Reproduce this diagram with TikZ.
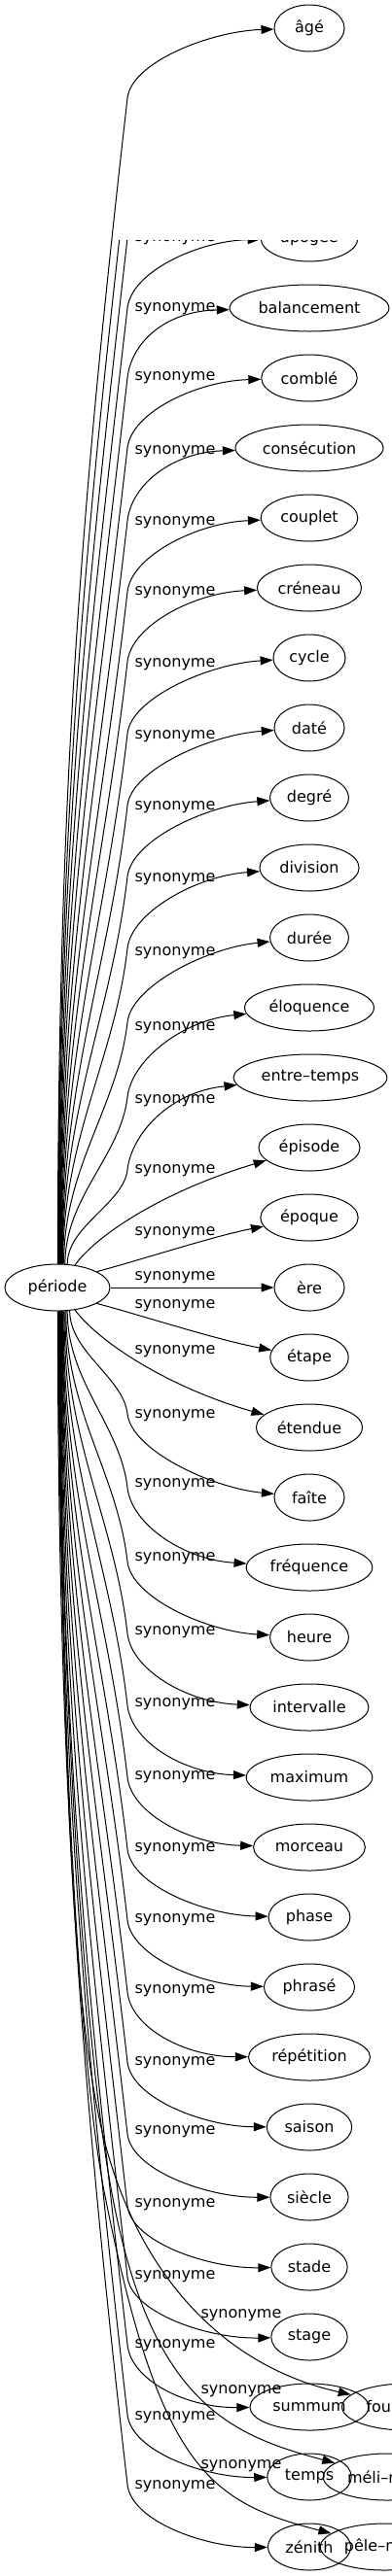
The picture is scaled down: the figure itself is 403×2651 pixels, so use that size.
\documentclass[tikz,border=0pt]{standalone}
\usepackage{fontspec}
\setmainfont{DejaVu Sans}
\usetikzlibrary{arrows.meta,shapes.geometric,calc}

\tikzset{
  word/.style={draw, ellipse, line width=1pt, minimum width=72pt, minimum height=48pt,
    inner xsep=5.5pt, inner ysep=2pt, font=\fontsize{16}{19}\selectfont},
  lbl/.style={inner sep=0pt, font=\fontsize{16}{19}\selectfont},
  syn/.style={draw, line width=1pt, -{Triangle[length=13pt,width=9pt]}}
}

\begin{document}
\begin{tikzpicture}[x=1pt, y=-1pt]
\useasboundingbox (0,0) rectangle (403,2651);

\node[word, minimum width=108pt] (periode) at (59,1325) {période};

\node[word] (age) at (318,29) {âgé};
\node[word] (apogee) at (318,245) {apogée};
\node[word] (balancement) at (318,317) {balancement};
\node[word] (comble) at (318,389) {comblé};
\node[word] (consecution) at (318,461) {consécution};
\node[word] (couplet) at (318,533) {couplet};
\node[word] (creneau) at (318,605) {créneau};
\node[word] (cycle) at (318,677) {cycle};
\node[word] (date) at (318,749) {daté};
\node[word] (degre) at (318,821) {degré};
\node[word] (division) at (318,893) {division};
\node[word] (duree) at (318,965) {durée};
\node[word] (eloquence) at (318,1037) {éloquence};
\node[word] (entretemps) at (319,1109) {entre–temps};
\node[word] (episode) at (318,1181) {épisode};
\node[word] (epoque) at (318,1253) {époque};
\node[word] (ere) at (318,1325) {ère};
\node[word] (etape) at (318,1397) {étape};
\node[word] (etendue) at (318,1469) {étendue};
\node[word] (faite) at (318,1541) {faîte};
\node[word] (frequence) at (318,1613) {fréquence};
\node[word] (heure) at (318,1685) {heure};
\node[word] (intervalle) at (318,1757) {intervalle};
\node[word] (maximum) at (318,1829) {maximum};
\node[word] (morceau) at (318,1901) {morceau};
\node[word] (phase) at (318,1973) {phase};
\node[word] (phrase) at (318,2045) {phrasé};
\node[word] (repetition) at (318,2117) {répétition};
\node[word] (saison) at (318,2189) {saison};
\node[word] (siecle) at (318,2261) {siècle};
\node[word] (stade) at (318,2333) {stade};
\node[word] (stage) at (318,2405) {stage};
\node[word] (summum) at (318,2477) {summum};
\node[word] (temps) at (318,2549) {temps};
\node[word] (zenith) at (318,2621) {zénith};
\node[word] (fourchette) at (418,2477) {fourchette};
\node[word] (melimelo) at (398,2549) {méli–mélo};
\node[word] (pelemele) at (395,2621) {pêle–mêle};

\node[lbl] (s1) at (180,246) {synonyme};
\node[lbl] (s2) at (180,318) {synonyme};
\node[lbl] (s3) at (180,389) {synonyme};
\node[lbl] (s4) at (180,465) {synonyme};
\node[lbl] (s5) at (180,538) {synonyme};
\node[lbl] (s6) at (180,610) {synonyme};
\node[lbl] (s7) at (180,684) {synonyme};
\node[lbl] (s8) at (180,758) {synonyme};
\node[lbl] (s9) at (180,831) {synonyme};
\node[lbl] (s10) at (180,905) {synonyme};
\node[lbl] (s11) at (180,981) {synonyme};
\node[lbl] (s12) at (180,1058) {synonyme};
\node[lbl] (s13) at (180,1133) {synonyme};
\node[lbl] (s14) at (180,1205) {synonyme};
\node[lbl] (s15) at (180,1269) {synonyme};
\node[lbl] (s16) at (180,1315) {synonyme};
\node[lbl] (s17) at (180,1344) {synonyme};
\node[lbl] (s18) at (180,1391) {synonyme};
\node[lbl] (s19) at (180,1457) {synonyme};
\node[lbl] (s20) at (180,1528) {synonyme};
\node[lbl] (s21) at (180,1604) {synonyme};
\node[lbl] (s22) at (180,1680) {synonyme};
\node[lbl] (s23) at (180,1754) {synonyme};
\node[lbl] (s24) at (180,1829) {synonyme};
\node[lbl] (s25) at (180,1903) {synonyme};
\node[lbl] (s26) at (180,1976) {synonyme};
\node[lbl] (s27) at (180,2049) {synonyme};
\node[lbl] (s28) at (180,2123) {synonyme};
\node[lbl] (s29) at (180,2194) {synonyme};
\node[lbl] (s30) at (180,2269) {synonyme};
\node[lbl] (s31) at (180,2343) {synonyme};
\node[lbl] (s32) at (248,2383) {synonyme};
\node[lbl] (s33) at (180,2414) {synonyme};
\node[lbl] (s34) at (248,2461) {synonyme};
\node[lbl] (s35) at (180,2488) {synonyme};
\node[lbl] (s36) at (248,2538) {synonyme};
\node[lbl] (s37) at (180,2559) {synonyme};

\coordinate (hidA) at (131,173);
\coordinate (hidB) at (131,245);
\draw[syn, -] (periode.88) .. controls (60,850) and (86,568) .. (hidA);
\draw[syn, -] (periode.87) .. controls (60,879) and (89,615) .. (hidB);

\foreach \n/\y/\o/\a in {apogee/245/0/86, balancement/317/0/85, comble/389/0/84,
    consecution/461/3/83, couplet/533/4/82, creneau/605/4/81, cycle/677/6/80,
    date/749/8/79, degre/821/9/78, division/893/11/77, duree/965/15/75,
    eloquence/1037/20/72, entretemps/1109/23/67}{
  \pgfmathsetmacro\by{\y+\o+72}
  \pgfmathsetmacro\d{1302-\by}
  \draw[syn] (periode.\a) .. controls ($(periode.\a)+(0,-0.4*\d)$) and (131-0.04*\d,\by+0.35*\d) .. (131,\by)
    .. controls (135,\y+\o+35) and ($(\n.west)+(-65,0.5*\o+3)$) .. (\n);
}
\draw[syn] (periode.52) .. controls (100,1270) and (170,1225) .. (episode);
\draw[syn] (periode.22) .. controls (150,1295) and (220,1272) .. (epoque);
\draw[syn] (periode) -- (ere);
\draw[syn] (periode.-22) .. controls (150,1355) and (220,1378) .. (etape);
\draw[syn] (periode.-52) .. controls (105,1385) and (180,1430) .. (etendue);
\foreach \n/\y/\o/\a in {faite/1541/-14/-62, frequence/1613/-10/-67, heure/1685/-6/-70,
    intervalle/1757/-4/-72, maximum/1829/-2/-74, morceau/1901/0/-76, phase/1973/2/-77,
    phrase/2045/3/-78, repetition/2117/5/-79, saison/2189/5/-80, siecle/2261/7/-81,
    stade/2333/9/-82, stage/2405/10/-83, summum/2477/8/-84, temps/2549/8/-86,
    zenith/2621/8/-89}{
  \pgfmathsetmacro\by{\y+\o-72}
  \pgfmathsetmacro\d{\by-1348}
  \draw[syn] (periode.\a) .. controls ($(periode.\a)+(0,0.4*\d)$) and (131-0.04*\d,\by-0.35*\d) .. (131,\by)
    .. controls (135,\y+\o-35) and ($(\n.west)+(-65,0.5*\o-3)$) .. (\n);
}
\draw[syn] (periode.-85) .. controls (64,1750) and (70,2080) .. (112,2220)
  .. controls (150,2347) and (233,2436) .. (fourchette);
\draw[syn] (periode.-87) .. controls (62,1750) and (88,2100) .. (112,2240)
  .. controls (151,2470) and (233,2505) .. (melimelo);
\draw[syn] (periode.-88) .. controls (61,1750) and (80,2120) .. (108,2260)
  .. controls (164,2540) and (215,2575) .. (pelemele);

\fill[white] (0,56) rectangle (403,247);
\draw[syn] (periode.89) .. controls ($(periode.89)+(0,-480)$) and (83,521) .. (131,101)
  .. controls (135,64) and ($(age.west)+(-65,3)$) .. (age);
\end{tikzpicture}
\end{document}
